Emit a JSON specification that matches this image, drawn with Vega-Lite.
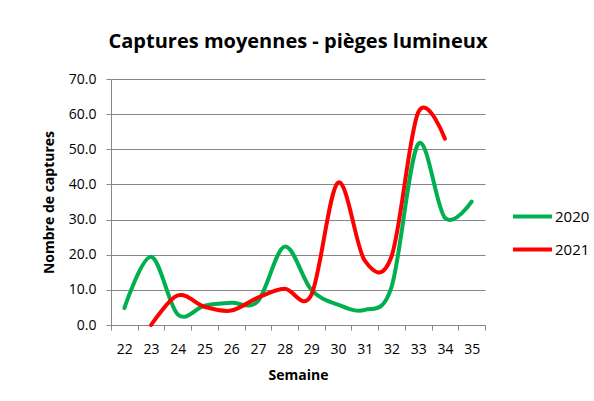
{
  "$schema": "https://vega.github.io/schema/vega-lite/v6.json",
  "autosize": {"type": "none"},
  "width": 374,
  "height": 246,
  "padding": {"left": 111, "top": 79, "right": 109, "bottom": 76},
  "background": "white",
  "title": {
    "text": "Captures moyennes - pièges lumineux",
    "font": "Open Sans",
    "fontSize": 20,
    "fontWeight": "bold",
    "color": "#000000",
    "anchor": "middle",
    "offset": 20
  },
  "data": {
    "values": [
      {"semaine": 22, "annee": "2020", "captures": 4.8},
      {"semaine": 23, "annee": "2020", "captures": 19.4},
      {"semaine": 24, "annee": "2020", "captures": 3.0},
      {"semaine": 25, "annee": "2020", "captures": 5.5},
      {"semaine": 26, "annee": "2020", "captures": 6.3},
      {"semaine": 27, "annee": "2020", "captures": 6.8},
      {"semaine": 28, "annee": "2020", "captures": 22.3},
      {"semaine": 29, "annee": "2020", "captures": 10.0},
      {"semaine": 30, "annee": "2020", "captures": 5.8},
      {"semaine": 31, "annee": "2020", "captures": 4.3},
      {"semaine": 32, "annee": "2020", "captures": 10.8},
      {"semaine": 33, "annee": "2020", "captures": 51.5},
      {"semaine": 34, "annee": "2020", "captures": 30.5},
      {"semaine": 35, "annee": "2020", "captures": 35.1},
      {"semaine": 23, "annee": "2021", "captures": 0.0},
      {"semaine": 24, "annee": "2021", "captures": 8.4},
      {"semaine": 25, "annee": "2021", "captures": 5.2},
      {"semaine": 26, "annee": "2021", "captures": 4.1},
      {"semaine": 27, "annee": "2021", "captures": 7.8},
      {"semaine": 28, "annee": "2021", "captures": 10.3},
      {"semaine": 29, "annee": "2021", "captures": 8.6},
      {"semaine": 30, "annee": "2021", "captures": 40.5},
      {"semaine": 31, "annee": "2021", "captures": 18.3},
      {"semaine": 32, "annee": "2021", "captures": 19.5},
      {"semaine": 33, "annee": "2021", "captures": 60.5},
      {"semaine": 34, "annee": "2021", "captures": 53.0}
    ]
  },
  "mark": {"type": "line", "interpolate": "cardinal", "strokeWidth": 4, "strokeCap": "round"},
  "encoding": {
    "x": {
      "field": "semaine",
      "type": "ordinal",
      "scale": {"type": "band", "domain": [22,23,24,25,26,27,28,29,30,31,32,33,34,35], "paddingInner": 0, "paddingOuter": 0},
      "axis": {
        "title": "Semaine",
        "labelAngle": 0,
        "tickBand": "extent",
        "grid": false,
        "domainColor": "#868686",
        "tickColor": "#868686",
        "tickSize": 5,
        "labelFont": "Open Sans",
        "labelFontSize": 14,
        "labelColor": "#000000",
        "labelPadding": 12,
        "titleFont": "Open Sans",
        "titleFontSize": 14,
        "titleFontWeight": "bold",
        "titleColor": "#000000",
        "titlePadding": 12
      }
    },
    "y": {
      "field": "captures",
      "type": "quantitative",
      "scale": {"domain": [0, 70], "nice": false},
      "axis": {
        "title": "Nombre de captures",
        "values": [0,10,20,30,40,50,60,70],
        "format": ".1f",
        "grid": true,
        "gridColor": "#868686",
        "gridWidth": 1,
        "domainColor": "#868686",
        "tickColor": "#868686",
        "tickSize": 5,
        "labelFont": "Open Sans",
        "labelFontSize": 14,
        "labelColor": "#000000",
        "labelPadding": 10,
        "titleFont": "Open Sans",
        "titleFontSize": 14,
        "titleFontWeight": "bold",
        "titleColor": "#000000",
        "titlePadding": 12
      }
    },
    "color": {
      "field": "annee",
      "type": "nominal",
      "scale": {"domain": ["2020", "2021"], "range": ["#00B050", "#FF0000"]},
      "legend": {
        "title": null,
        "orient": "none",
        "legendX": 400,
        "legendY": 116,
        "symbolType": "stroke",
        "symbolSize": 1521,
        "symbolStrokeWidth": 4,
        "labelFont": "Open Sans",
        "labelFontSize": 15,
        "labelColor": "#000000",
        "labelOffset": 1,
        "rowPadding": 3
      }
    }
  },
  "config": {
    "view": {"stroke": null}
  }
}
